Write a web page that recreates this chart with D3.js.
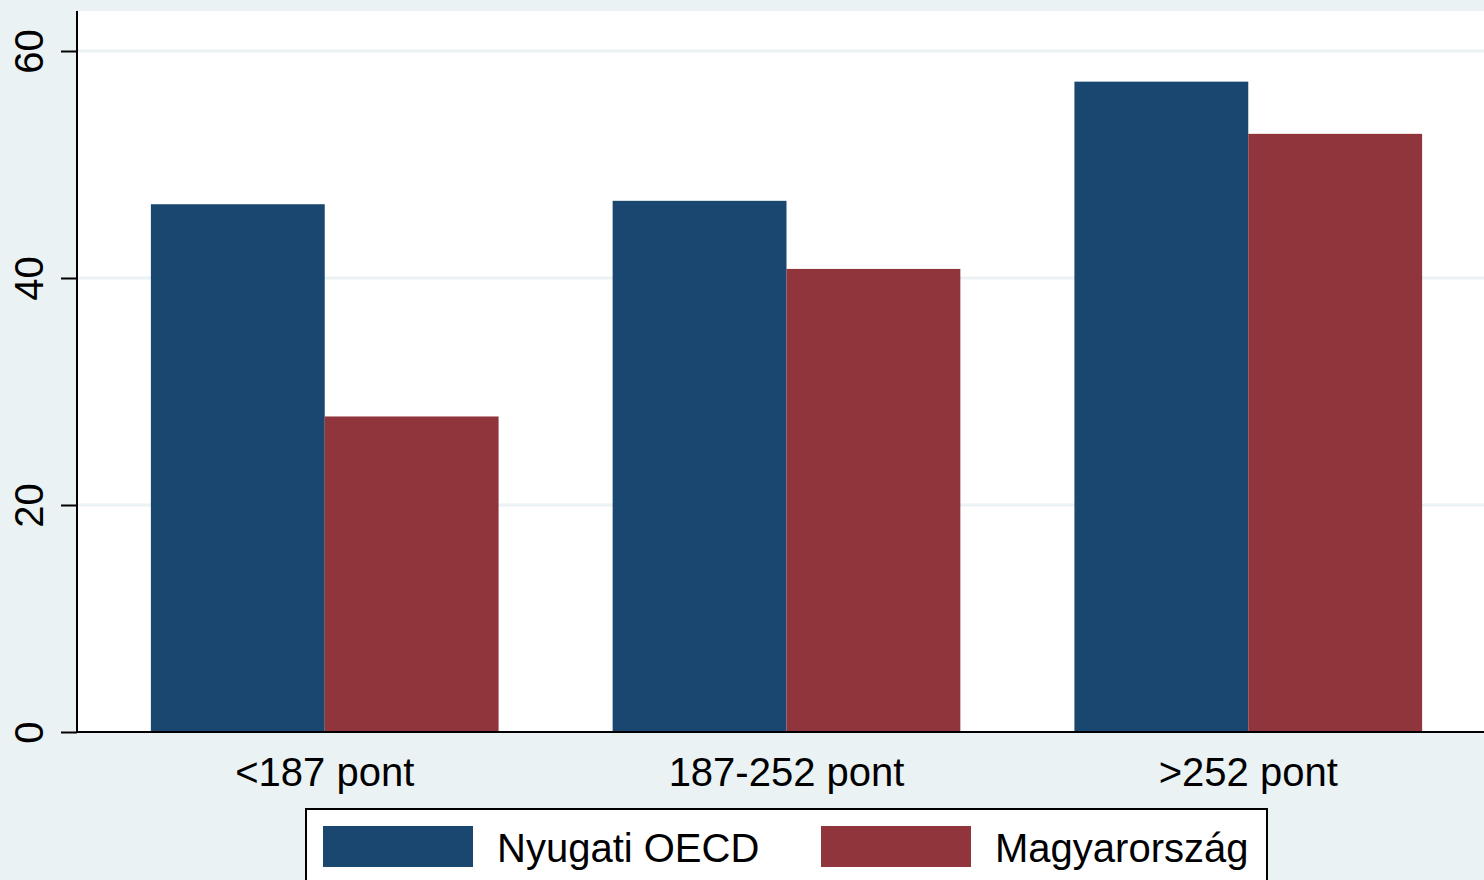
<!DOCTYPE html>
<html><head><meta charset="utf-8">
<script src="https://cdn.jsdelivr.net/npm/d3@7"></script>
<style>html,body{margin:0;padding:0;background:#eaf2f3;overflow:hidden}svg{display:block}</style>
</head><body>
<script>
const categories = ["<187 pont", "187-252 pont", ">252 pont"];
const seriesNames = ["Nyugati OECD", "Magyarország"];
const oecd = [46.5, 46.8, 57.3];
const hungary = [27.8, 40.8, 52.7];
const yTicks = [0, 20, 40, 60];
const colors = ["#1a476f", "#90353b"];

(function () {
const W = 1484, H = 880;
const svg = d3.select("body").append("svg").attr("width", W).attr("height", H);
svg.append("rect").attr("width", W).attr("height", H).attr("fill", "#eaf2f3");

const pLeft = 77, pTop = 11, pBottom = 732, pRight = 1496;
const y = d3.scaleLinear().domain([0, 60]).range([pBottom, 51]);
const x0 = d3.scaleBand().domain(categories).range([pLeft, pRight]).paddingInner(0.247).paddingOuter(0.16);
const x1 = d3.scaleBand().domain(seriesNames).range([0, x0.bandwidth()]);

svg.append("rect").attr("x", pLeft).attr("y", pTop).attr("width", pRight - pLeft + 20).attr("height", pBottom - pTop).attr("fill", "#ffffff");

// grid
svg.append("g").selectAll("line").data(yTicks.filter(d => d > 0)).join("line")
  .attr("x1", pLeft).attr("x2", W).attr("y1", d => y(d)).attr("y2", d => y(d))
  .attr("stroke", "#eaf2f3").attr("stroke-width", 3);

const data = categories.map((c, i) => ({c, vals: [oecd[i], hungary[i]]}));
const g = svg.append("g").selectAll("g").data(data).join("g")
  .attr("transform", d => `translate(${x0(d.c)},0)`);
g.selectAll("rect").data(d => d.vals.map((v, j) => ({v, s: seriesNames[j], j}))).join("rect")
  .attr("x", d => x1(d.s)).attr("width", x1.bandwidth())
  .attr("y", d => y(d.v)).attr("height", d => pBottom - y(d.v))
  .attr("fill", d => colors[d.j]);

// y axis
const yAxis = d3.axisLeft(y).tickValues(yTicks).tickSize(16).tickPadding(0).tickFormat(d3.format("d"));
const ya = svg.append("g").attr("transform", `translate(${pLeft},0)`).call(yAxis);
ya.select(".domain").attr("d", `M0,${pTop}V${pBottom}`).attr("stroke", "#000").attr("stroke-width", 2);
ya.selectAll(".tick line").attr("stroke", "#000").attr("stroke-width", 2);
ya.selectAll(".tick text")
  .attr("font-family", "Liberation Sans, Arial, sans-serif").attr("font-size", 40).attr("fill", "#000")
  .attr("text-anchor", "middle").attr("x", null).attr("dy", null)
  .attr("transform", "translate(-34,0) rotate(-90)");

// x axis
const xAxis = d3.axisBottom(x0).tickSize(0).tickPadding(0);
const xa = svg.append("g").attr("transform", `translate(0,${pBottom})`).call(xAxis);
xa.select(".domain").attr("d", `M${pLeft},0H${W}`).attr("stroke", "#000").attr("stroke-width", 2);
xa.selectAll(".tick text")
  .attr("font-family", "Liberation Sans, Arial, sans-serif").attr("font-size", 40).attr("fill", "#000")
  .attr("y", 54).attr("dy", null);

// legend
const lg = svg.append("g");
lg.append("rect").attr("x", 306).attr("y", 809).attr("width", 961).attr("height", 100)
  .attr("fill", "#fff").attr("stroke", "#000").attr("stroke-width", 2);
const items = lg.selectAll("g").data(seriesNames).join("g")
  .attr("transform", (d, i) => `translate(${323 + i * 498},826)`);
items.append("rect").attr("width", 150).attr("height", 41).attr("fill", (d, i) => colors[i]);
items.append("text").attr("x", 174).attr("y", 36).text(d => d)
  .attr("font-family", "Liberation Sans, Arial, sans-serif").attr("font-size", 40).attr("fill", "#000");
})();
</script>
</body></html>
